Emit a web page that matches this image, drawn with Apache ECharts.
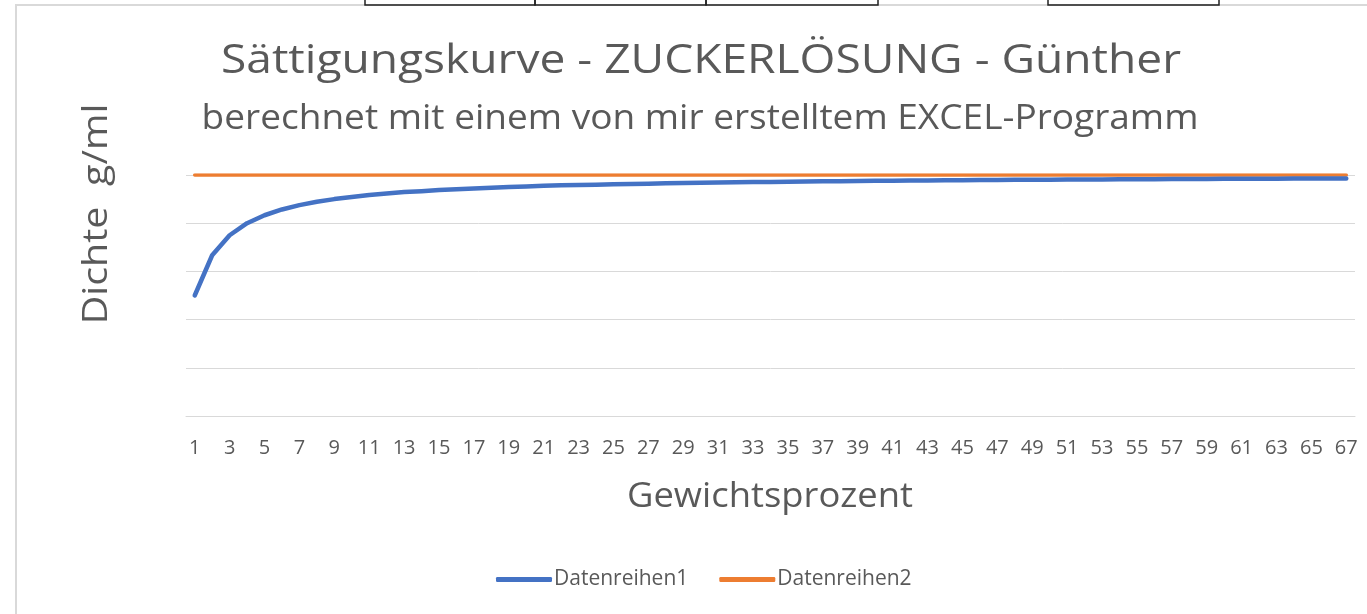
<!DOCTYPE html>
<html>
<head>
<meta charset="utf-8">
<script src="https://cdn.jsdelivr.net/npm/echarts@6/dist/echarts.min.js"></script>
<style>
html,body{margin:0;padding:0;background:#fff;}
#chart{width:1367px;height:614px;}
</style>
</head>
<body>
<div id="chart"></div>
<script>
const categories = ['1','2','3','4','5','6','7','8','9','10','11','12','13','14','15','16','17','18','19','20',
  '21','22','23','24','25','26','27','28','29','30','31','32','33','34','35','36','37','38','39','40',
  '41','42','43','44','45','46','47','48','49','50','51','52','53','54','55','56','57','58','59','60',
  '61','62','63','64','65','66','67'];

const datenreihen1 = [0.500,0.667,0.750,0.800,0.833,0.857,0.875,0.889,0.900,0.909,
  0.917,0.923,0.929,0.933,0.938,0.941,0.944,0.947,0.950,0.952,
  0.955,0.957,0.958,0.960,0.962,0.963,0.964,0.966,0.967,0.968,
  0.969,0.970,0.971,0.971,0.972,0.973,0.974,0.974,0.975,0.976,
  0.976,0.977,0.977,0.978,0.978,0.979,0.979,0.980,0.980,0.980,
  0.981,0.981,0.981,0.982,0.982,0.982,0.983,0.983,0.983,0.984,
  0.984,0.984,0.984,0.985,0.985,0.985,0.985];

const datenreihen2 = [1,1,1,1,1,1,1,1,1,1,1,1,1,1,1,1,1,1,1,1,
  1,1,1,1,1,1,1,1,1,1,1,1,1,1,1,1,1,1,1,1,
  1,1,1,1,1,1,1,1,1,1,1,1,1,1,1,1,1,1,1,1,
  1,1,1,1,1,1,1];

const titleText = 'Sättigungskurve - ZUCKERLÖSUNG - Günther';
const subtitleText = 'berechnet mit einem von mir erstelltem EXCEL-Programm';
const xName = 'Gewichtsprozent';
const yName = 'Dichte  g/ml';
const seriesNames = ['Datenreihen1', 'Datenreihen2'];

const FONT = '"Open Sans", sans-serif';
const TXT = '#595959';

const chart = echarts.init(document.getElementById('chart'), null, {renderer: 'canvas'});
chart.setOption({
  animation: false,
  backgroundColor: '#ffffff',
  graphic: [
    {type: 'rect', shape: {x: 16, y: 5, width: 1400, height: 700}, style: {fill: 'none', stroke: '#d9d9d9', lineWidth: 2}},
    {type: 'rect', shape: {x: 365, y: -5, width: 170, height: 10}, style: {fill: 'none', stroke: '#222', lineWidth: 1.5}},
    {type: 'rect', shape: {x: 535, y: -5, width: 171, height: 10}, style: {fill: 'none', stroke: '#222', lineWidth: 1.5}},
    {type: 'rect', shape: {x: 706, y: -5, width: 172, height: 10}, style: {fill: 'none', stroke: '#222', lineWidth: 1.5}},
    {type: 'rect', shape: {x: 1048, y: -5, width: 171, height: 10}, style: {fill: 'none', stroke: '#222', lineWidth: 1.5}},
    {type: 'text', x: 701, y: 62, scaleX: 1.153,
     style: {text: titleText, fontFamily: FONT, fontSize: 40, fill: TXT, align: 'center', verticalAlign: 'middle'}},
    {type: 'text', x: 700, y: 119, scaleX: 1.089,
     style: {text: subtitleText, fontFamily: FONT, fontSize: 34, fill: TXT, align: 'center', verticalAlign: 'middle'}},
    {type: 'text', x: 770, y: 497, scaleX: 1.07,
     style: {text: xName, fontFamily: FONT, fontSize: 34, fill: TXT, align: 'center', verticalAlign: 'middle'}},
    {type: 'text', x: 97, y: 214, rotation: Math.PI / 2, scaleX: 1.16,
     style: {text: yName, fontFamily: FONT, fontSize: 34, fill: TXT, align: 'center', verticalAlign: 'middle'}}
  ],
  legend: {
    bottom: 19, left: 491,
    itemWidth: 56, itemHeight: 5, itemGap: 31,
    icon: 'roundRect',
    textStyle: {fontFamily: FONT, fontSize: 21, color: TXT, padding: [0, 0, 0, -3]},
    data: seriesNames
  },
  grid: {left: 186, right: 12, top: 175, bottom: 198, containLabel: false},
  xAxis: {
    type: 'category',
    data: categories,
    boundaryGap: true,
    axisLine: {show: true, lineStyle: {color: '#d9d9d9', width: 1}},
    axisTick: {show: false},
    axisLabel: {interval: 1, fontFamily: FONT, fontSize: 20, color: TXT, margin: 22}
  },
  yAxis: {
    type: 'value',
    min: 0, max: 1, interval: 0.2,
    axisLine: {show: false},
    axisTick: {show: false},
    axisLabel: {show: false},
    splitLine: {show: true, lineStyle: {color: '#d9d9d9', width: 1}}
  },
  series: [
    {name: seriesNames[0], type: 'line', data: datenreihen1, showSymbol: false, symbol: 'none',
     lineStyle: {color: '#4472C4', width: 4.5, cap: 'round', join: 'round'}, itemStyle: {color: '#4472C4'}, z: 3},
    {name: seriesNames[1], type: 'line', data: datenreihen2, showSymbol: false, symbol: 'none',
     lineStyle: {color: '#ED7D31', width: 3.5, cap: 'round'}, itemStyle: {color: '#ED7D31'}, z: 2}
  ]
});
</script>
</body>
</html>
